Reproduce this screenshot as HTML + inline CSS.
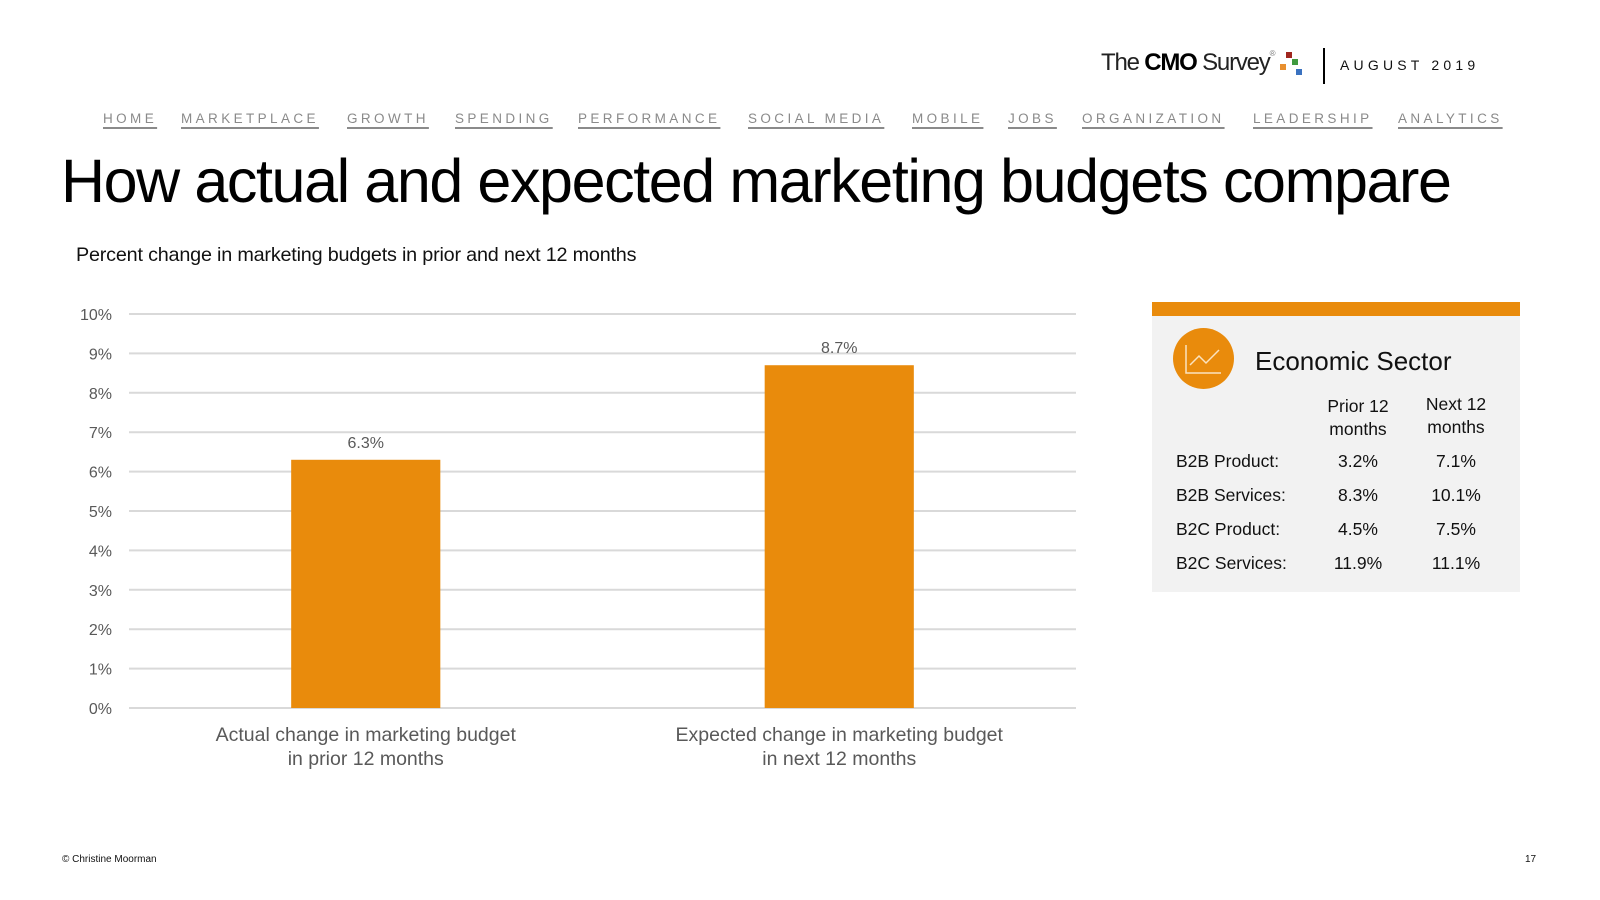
<!DOCTYPE html>
<html><head><meta charset="utf-8"><style>
body{margin:0;width:1600px;height:900px;background:#fff;font-family:"Liberation Sans",Arial,sans-serif;position:relative;overflow:hidden}
.a{position:absolute;white-space:nowrap}
.nav{top:111px;font-size:13.5px;color:#8a8a8a;letter-spacing:3.4px;text-decoration:underline;text-decoration-thickness:2px;text-underline-offset:4px}
</style></head><body>
<div class="a" style="left:1101px;top:49px;font-size:24px;letter-spacing:-1.2px;color:#222">The <b style="color:#000">CMO</b> Survey<span style="font-size:8px;vertical-align:top;color:#777">®</span></div>
<div class="a" style="left:1284px;top:52px;width:30px;height:26px">
<div class="a" style="left:2px;top:0;width:6px;height:6px;background:#a0261e"></div>
<div class="a" style="left:-4px;top:12px;width:6px;height:6px;background:#e88f2f"></div>
<div class="a" style="left:8px;top:7px;width:6px;height:6px;background:#3f9a3f"></div>
<div class="a" style="left:12px;top:17px;width:6px;height:6px;background:#3a72c0"></div></div>
<div class="a" style="left:1323px;top:48px;width:2px;height:36px;background:#000"></div>
<div class="a" style="left:1340px;top:57px;font-size:14px;letter-spacing:4.2px;color:#111">AUGUST 2019</div>
<div>
<a class="a nav" style="left:103px">HOME</a>
<a class="a nav" style="left:181px">MARKETPLACE</a>
<a class="a nav" style="left:347px">GROWTH</a>
<a class="a nav" style="left:455px">SPENDING</a>
<a class="a nav" style="left:578px">PERFORMANCE</a>
<a class="a nav" style="left:748px">SOCIAL MEDIA</a>
<a class="a nav" style="left:912px">MOBILE</a>
<a class="a nav" style="left:1008px">JOBS</a>
<a class="a nav" style="left:1082px">ORGANIZATION</a>
<a class="a nav" style="left:1253px">LEADERSHIP</a>
<a class="a nav" style="left:1398px">ANALYTICS</a>
</div>
<div class="a" style="left:61px;top:146px;font-size:61px;letter-spacing:-1.4px;color:#000">How actual and expected marketing budgets compare</div>
<div class="a" style="left:76px;top:244px;font-size:19.8px;letter-spacing:-0.2px;color:#111">Percent change in marketing budgets in prior and next 12 months</div>
<svg class="a" style="left:0;top:0" width="1110" height="800" id="chart"></svg>
<div class="a" style="left:1152px;top:302px;width:368px;height:290px;background:#f2f2f2">
<div class="a" style="left:0;top:0;width:368px;height:14px;background:#e98b0c"></div>
<div class="a" style="left:21px;top:26px;width:61px;height:61px;border-radius:50%;background:#e98b0c">
<svg width="61" height="61"><path d="M13 17 V45 H48" stroke="#fbe3c0" stroke-width="1.5" fill="none"/><path d="M17 37 L26 28 L33 35 L46 22" stroke="#fbe3c0" stroke-width="1.5" fill="none"/></svg></div>
<div class="a" style="left:103px;top:44px;font-size:26px;color:#111">Economic Sector</div>
<div class="a" style="left:156px;top:93px;width:100px;text-align:center;font-size:17.5px;line-height:23px;color:#111">Prior 12<br>months</div>
<div class="a" style="left:254px;top:91px;width:100px;text-align:center;font-size:17.5px;line-height:23px;color:#111">Next 12<br>months</div>
<div id="rows"></div>
</div>
<div class="a" style="left:62px;top:854px;font-size:10px;color:#111">© Christine Moorman</div>
<div class="a" style="left:1525px;top:854px;font-size:10px;color:#111">17</div>
<script>
const categories=["Actual change in marketing budget|in prior 12 months","Expected change in marketing budget|in next 12 months"];
const values=[6.3,8.7];
const valueLabels=["6.3%","8.7%"];
const ticks=[0,1,2,3,4,5,6,7,8,9,10];
const sectors=["B2B Product:","B2B Services:","B2C Product:","B2C Services:"];
const priorVals=["3.2%","8.3%","4.5%","11.9%"];
const nextVals=["7.1%","10.1%","7.5%","11.1%"];
const NS="http://www.w3.org/2000/svg";
const svg=document.getElementById('chart');
const X0=129,X1=1076,Y0=708,Y1=314;
const y=v=>Y0-(v-0)/(10-0)*(Y0-Y1);
const band=(X1-X0)/categories.length;
const xc=i=>X0+band*(i+0.5);
function mk(t,a){const e=document.createElementNS(NS,t);for(const k in a)e.setAttribute(k,a[k]);svg.appendChild(e);return e;}
ticks.forEach(t=>{
const g=mk('line',{x1:X0,x2:X1,y1:y(t),y2:y(t),stroke:'#d9d9d9','stroke-width':2});


const l=mk('text',{x:112,y:y(t)+6,'text-anchor':'end','font-size':16,fill:'#595959'});
l.textContent=t+'%';


});
const bw=band*0.315;
values.forEach((v,i)=>{
const r=mk('rect',{x:xc(i)-bw/2,y:y(v),width:bw,height:Y0-y(v),fill:'#e98b0c'});


const t=mk('text',{x:xc(i),y:y(v)-12,'text-anchor':'middle','font-size':16,fill:'#595959'});
t.textContent=valueLabels[i];


categories[i].split('|').forEach((s,j)=>{
const c=mk('text',{x:xc(i),y:741+j*24,'text-anchor':'middle','font-size':19.5,fill:'#595959'});
c.textContent=s;


});
});
const rows=document.getElementById('rows');
sectors.forEach((s,i)=>{
const top=149+i*34;
[[s,24,'left',null],[priorVals[i],156,'center',100],[nextVals[i],254,'center',100]].forEach(([txt,l,al,w],k)=>{
const d=document.createElement('div');
d.className='a';
d.style.cssText=`left:${l}px;top:${top}px;font-size:17.5px;color:#111;text-align:${al};${w?'width:'+w+'px':''}`;
d.textContent=txt;


rows.appendChild(d);
});
});
</script>
</body></html>
